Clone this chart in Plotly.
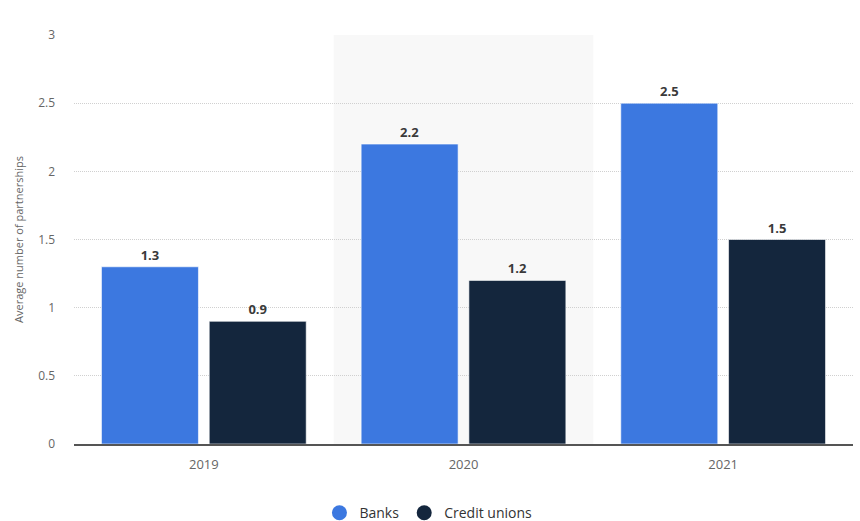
import plotly.graph_objects as go

years = ["2019", "2020", "2021"]
banks = [1.3, 2.2, 2.5]
credit_unions = [0.9, 1.2, 1.5]
series_names = ["Banks", "Credit unions"]
colors = ["#3c78e0", "#14263d"]
y_ticks = [0, 0.5, 1, 1.5, 2, 2.5, 3]

fig = go.Figure()
for name, vals, col in zip(series_names, [banks, credit_unions], colors):
    fig.add_trace(go.Bar(
        x=years, y=vals, name=name, marker_color=col,
        marker_line=dict(color="rgba(255,255,255,0.6)", width=1),
        text=[f"{v:g}" for v in vals], textposition="outside",
        textfont=dict(size=13, color="#3a3a3a", family="Open Sans"),
        texttemplate="<b>%{text}</b>", cliponaxis=False, showlegend=False,
    ))
for name, col in zip(series_names, colors):
    fig.add_trace(go.Scatter(
        x=[None], y=[None], mode="markers", name=name,
        marker=dict(symbol="circle", size=15, color=col),
    ))

fig.add_shape(type="rect", xref="x", yref="paper", x0=0.5, x1=1.5, y0=0, y1=1,
              fillcolor="#f8f8f8", line_width=0, layer="below")

fig.update_layout(
    width=860, height=521,
    margin=dict(l=74, r=7, t=35, b=77),
    paper_bgcolor="white", plot_bgcolor="white",
    font=dict(family="Open Sans", color="#666666"),
    barmode="group", bargap=0.17, bargroupgap=0.1,
    legend=dict(orientation="h", x=0.455, xanchor="center",
                yref="container", y=0.015, yanchor="middle",
                font=dict(size=14, color="#333333"), itemwidth=30),
    xaxis=dict(showline=True, linecolor="#555555", linewidth=1.5, ticks="",
               ticklabelstandoff=8,
               tickfont=dict(size=13, color="#666666")),
    yaxis=dict(range=[0, 3], tickvals=y_ticks, ticktext=[f"{t:g}" for t in y_ticks],
               showgrid=True, gridcolor="#d0d0d0", griddash="1px,1px", gridwidth=1,
               zeroline=False, tickfont=dict(size=12, color="#666666"),
               ticklabelstandoff=18,
               title=dict(text="Average number of partnerships", font=dict(size=11, color="#666666"),
                          standoff=12)),
)

fig.write_html("out.html")
